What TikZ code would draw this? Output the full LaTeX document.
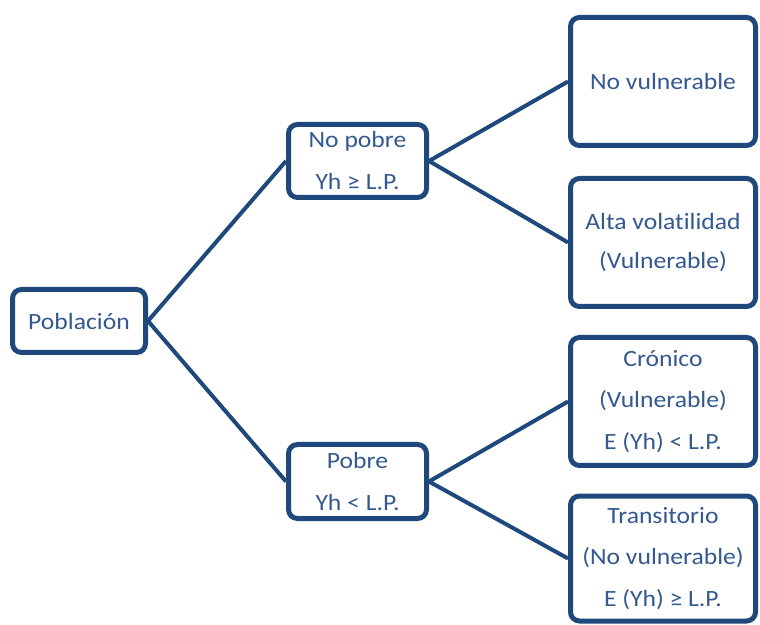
\documentclass[tikz,border=0pt]{standalone}
\usepackage{fontspec}
\setmainfont{Carlito}[FakeStretch=1.1, Ligatures=CommonOff]
\begin{document}
\definecolor{lineblue}{HTML}{1F497D}
\definecolor{textblue}{HTML}{34598F}
\begin{tikzpicture}[x=1pt,y=1pt,
  box/.style={draw=lineblue, line width=5pt, rounded corners=9pt, fill=white,
    text=textblue, align=center, inner sep=0pt,
    font=\fontsize{23.3}{41.5}\selectfont},
  conn/.style={draw=lineblue, line width=4pt}]
\useasboundingbox (0,0) rectangle (760,624);
\node[box, minimum width=133pt, minimum height=63pt] (pob) at (79,303) {Población};
\node[box, minimum width=138pt, minimum height=73pt, font=\fontsize{23.3}{42}\selectfont] (nopobre) at (357.5,463) {No pobre\\Yh ≥ L.P.};
\node[box, minimum width=138pt, minimum height=74pt, font=\fontsize{23.3}{42}\selectfont] (pobre) at (357.5,142.5) {Pobre\\Yh < L.P.};
\node[box, minimum width=185pt, minimum height=128pt] (novul) at (663,542.5) {No vulnerable};
\node[box, minimum width=185pt, minimum height=128pt, font=\fontsize{23.3}{39}\selectfont] (alta) at (663,381.5) {Alta volatilidad\\(Vulnerable)};
\node[box, minimum width=185pt, minimum height=128pt] (cron) at (663,222.5) {Crónico\\(Vulnerable)\\E (Yh) < L.P.};
\node[box, minimum width=185pt, minimum height=125pt] (trans) at (663,65.5) {Transitorio\\(No vulnerable)\\E (Yh) ≥ L.P.};
\draw[conn] (pob.east) -- (nopobre.west);
\draw[conn] (pob.east) -- (pobre.west);
\draw[conn] (nopobre.east) -- (novul.west);
\draw[conn] (nopobre.east) -- (alta.west);
\draw[conn] (pobre.east) -- (cron.west);
\draw[conn] (pobre.east) -- (trans.west);
\end{tikzpicture}
\end{document}
